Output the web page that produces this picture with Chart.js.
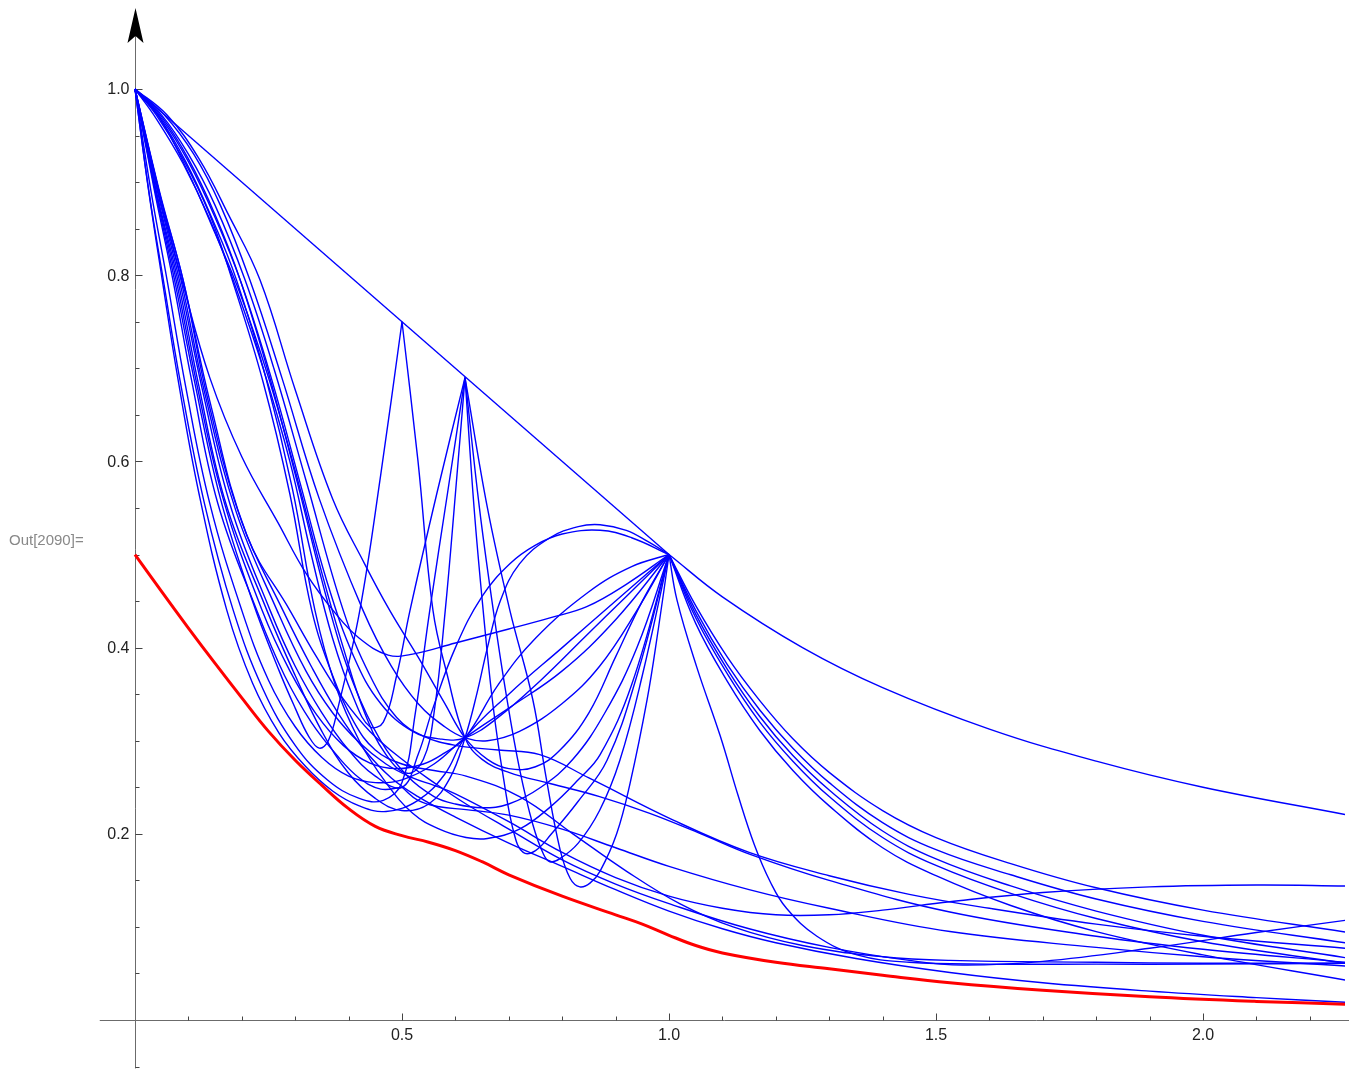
<!DOCTYPE html>
<html>
<head>
<meta charset="utf-8">
<title>Out[2090]</title>
<script src="https://cdn.jsdelivr.net/npm/chart.js@4.4.1/dist/chart.umd.min.js"></script>
<style>
  html, body { margin: 0; padding: 0; background: #fff; }
  #wrap { position: relative; width: 1349px; height: 1070px; }
</style>
</head>
<body>
<div id="wrap"><canvas id="curveChart" width="1349" height="1070"></canvas></div>
<script>
// Curves, as [x, y] pairs.
// Red lower envelope.
const redCurve = [[0,0.5],[0.05,0.46],[0.1,0.421],[0.15,0.383],[0.2,0.346],[0.25,0.31],[0.3,0.279],[0.35,0.252],[0.4,0.227],[0.45,0.208],[0.5,0.198],[0.55,0.191],[0.6,0.182],[0.65,0.17],[0.7,0.156],[0.8,0.133],[0.9,0.113],[0.95,0.103],[1.0,0.091],[1.05,0.08],[1.1,0.072],[1.2,0.062],[1.3,0.055],[1.4,0.048],[1.526,0.04],[1.7,0.032],[1.9,0.025],[2.1,0.02],[2.266,0.017]];

// Upper envelope: straight part and tail.
const upperLine = [[0,1],[1,0.5]];
const upperTail = [[1,0.5],[1.1,0.4545],[1.25,0.4],[1.4,0.357],[1.6,0.3125],[1.8,0.278],[2.0,0.25],[2.266,0.2207]];

// Steep curves leaving (0,1).
const curveL1 = [[0,1],[0.025,0.893],[0.051,0.795],[0.08,0.69],[0.12,0.565],[0.172,0.44],[0.22,0.362],[0.27,0.308],[0.32,0.272],[0.37,0.246],[0.42,0.23],[0.47,0.224],[0.53,0.236],[0.58,0.264],[0.618,0.303],[0.7,0.35],[0.8,0.4],[0.9,0.45],[1,0.5]];
const curveL4 = [[0,1],[0.03,0.89],[0.06,0.795],[0.095,0.68],[0.14,0.555],[0.2,0.44],[0.25,0.365],[0.3,0.315],[0.35,0.282],[0.4,0.262],[0.45,0.255],[0.5,0.258],[0.56,0.275],[0.618,0.303],[0.7,0.335],[0.8,0.375],[0.9,0.43],[1,0.5]];
const spikeHalfLeft = [[0,1],[0.037,0.893],[0.074,0.795],[0.11,0.69],[0.16,0.56],[0.22,0.45],[0.27,0.375],[0.3,0.335],[0.325,0.305],[0.345,0.292],[0.362,0.3],[0.38,0.335],[0.421,0.44],[0.46,0.585],[0.5,0.75]];
const spikeHalfRight = [[0.5,0.75],[0.53,0.6],[0.558,0.44],[0.585,0.37],[0.618,0.303],[0.65,0.28],[0.7,0.266],[0.777,0.254],[0.87,0.24],[0.964,0.222],[1.06,0.2],[1.152,0.178],[1.3,0.15],[1.526,0.116],[1.8,0.09],[2.0,0.076],[2.266,0.062]];
const curveW2 = [[0,1],[0.026,0.89],[0.053,0.795],[0.085,0.685],[0.13,0.555],[0.184,0.44],[0.24,0.355],[0.3,0.295],[0.36,0.258],[0.42,0.238],[0.465,0.236],[0.5,0.255],[0.525,0.33],[0.552,0.44],[0.585,0.565],[0.618,0.69]];
const curveL2 = [[0,1],[0.035,0.895],[0.071,0.795],[0.105,0.69],[0.155,0.555],[0.228,0.44],[0.28,0.37],[0.33,0.32],[0.38,0.283],[0.42,0.26],[0.46,0.248],[0.5,0.25]];
const curveL2b = [[0.5,0.25],[0.53,0.236],[0.57,0.229],[0.62,0.226],[0.7,0.22],[0.8,0.205],[0.9,0.185],[1.0,0.165],[1.15,0.14],[1.3,0.12],[1.526,0.095],[1.8,0.078],[2.0,0.068],[2.266,0.058]];
const curveL3 = [[0,1],[0.038,0.893],[0.077,0.795],[0.115,0.685],[0.165,0.56],[0.238,0.44],[0.29,0.375],[0.34,0.328],[0.39,0.295],[0.44,0.276],[0.49,0.27],[0.54,0.275],[0.58,0.287],[0.618,0.303],[0.68,0.36],[0.75,0.41],[0.85,0.46],[0.93,0.487],[1,0.5]];
const archHigh = [[0,1],[0.04,0.89],[0.08,0.795],[0.12,0.68],[0.17,0.555],[0.247,0.44],[0.3,0.37],[0.35,0.31],[0.4,0.265],[0.45,0.238],[0.5,0.225],[0.55,0.232],[0.59,0.26],[0.618,0.303],[0.64,0.35],[0.66,0.4],[0.684,0.45],[0.72,0.49],[0.777,0.518],[0.83,0.53],[0.871,0.532],[0.92,0.526],[0.96,0.514],[1,0.5]];
const archLow = [[0,1],[0.042,0.89],[0.083,0.795],[0.125,0.68],[0.18,0.55],[0.253,0.44],[0.3,0.38],[0.35,0.33],[0.4,0.29],[0.45,0.262],[0.5,0.25],[0.53,0.285],[0.558,0.335],[0.6,0.4],[0.65,0.455],[0.702,0.49],[0.75,0.51],[0.8,0.522],[0.871,0.526],[0.93,0.518],[1,0.5]];
const tailRise = [[0,1],[0.043,0.89],[0.086,0.795],[0.13,0.675],[0.19,0.545],[0.266,0.44],[0.32,0.375],[0.37,0.33],[0.42,0.298],[0.47,0.275],[0.52,0.26],[0.56,0.252],[0.6,0.243],[0.7,0.213],[0.8,0.18],[0.9,0.153],[1.0,0.133],[1.1,0.12],[1.2,0.113],[1.3,0.113],[1.4,0.118],[1.526,0.127],[1.7,0.137],[1.9,0.143],[2.1,0.145],[2.266,0.144]];
const tailBottom = [[0,1],[0.045,0.89],[0.09,0.795],[0.135,0.67],[0.2,0.535],[0.277,0.44],[0.33,0.38],[0.38,0.33],[0.43,0.29],[0.48,0.26],[0.53,0.24],[0.6,0.218],[0.7,0.19],[0.8,0.165],[0.9,0.14],[1.0,0.117],[1.1,0.098],[1.2,0.083],[1.35,0.066],[1.526,0.051],[1.7,0.04],[1.9,0.031],[2.1,0.024],[2.266,0.019]];
const tailDipRise = [[0,1],[0.045,0.892],[0.09,0.795],[0.14,0.665],[0.21,0.52],[0.29,0.44],[0.34,0.39],[0.39,0.345],[0.44,0.31],[0.5,0.28],[0.56,0.255],[0.62,0.232],[0.7,0.205],[0.8,0.172],[0.9,0.146],[1.0,0.125],[1.15,0.098],[1.3,0.078],[1.45,0.064],[1.55,0.059],[1.7,0.063],[1.9,0.077],[2.1,0.094],[2.266,0.107]];
const curveM1 = [[0,1],[0.045,0.89],[0.09,0.79],[0.14,0.69],[0.2,0.605],[0.268,0.534],[0.32,0.48],[0.375,0.437],[0.42,0.41],[0.474,0.392],[0.52,0.393],[0.6,0.405],[0.7,0.42],[0.777,0.432],[0.846,0.444],[0.92,0.468],[1,0.5]];

// Shallower curves leaving (0,1).
const curveW1 = [[0,1],[0.04,0.968],[0.09,0.92],[0.14,0.86],[0.19,0.785],[0.24,0.7],[0.29,0.6],[0.33,0.5],[0.37,0.41],[0.41,0.345],[0.44,0.315],[0.465,0.32],[0.49,0.37],[0.515,0.44],[0.565,0.565],[0.618,0.69]];
const curveW3 = [[0,1],[0.045,0.97],[0.1,0.91],[0.15,0.845],[0.197,0.78],[0.25,0.69],[0.3,0.59],[0.35,0.48],[0.39,0.4],[0.43,0.33],[0.47,0.285],[0.51,0.265],[0.54,0.28],[0.56,0.33],[0.581,0.44],[0.6,0.565],[0.618,0.69]];
const tailFlat = [[0,1],[0.04,0.972],[0.09,0.925],[0.14,0.865],[0.182,0.795],[0.24,0.685],[0.29,0.565],[0.331,0.44],[0.37,0.37],[0.41,0.32],[0.45,0.29],[0.5,0.275],[0.56,0.268],[0.62,0.262],[0.72,0.24],[0.82,0.2],[0.92,0.16],[1.02,0.125],[1.12,0.1],[1.25,0.08],[1.4,0.068],[1.526,0.064],[1.8,0.062],[2.0,0.061],[2.266,0.061]];
const curveM2 = [[0,1],[0.045,0.97],[0.095,0.922],[0.145,0.86],[0.19,0.795],[0.245,0.69],[0.295,0.57],[0.337,0.44],[0.375,0.36],[0.42,0.3],[0.47,0.255],[0.52,0.222],[0.57,0.205],[0.62,0.196],[0.66,0.195],[0.72,0.205],[0.78,0.23],[0.83,0.258],[0.871,0.285],[0.93,0.36],[1,0.5]];
const curveM3 = [[0,1],[0.05,0.97],[0.1,0.925],[0.15,0.865],[0.197,0.795],[0.25,0.695],[0.305,0.575],[0.365,0.44],[0.41,0.36],[0.46,0.3],[0.51,0.262],[0.56,0.24],[0.6,0.232],[0.65,0.228],[0.7,0.232],[0.76,0.25],[0.82,0.28],[0.88,0.33],[0.94,0.4],[1,0.5]];
const curveM4 = [[0,1],[0.05,0.972],[0.1,0.93],[0.15,0.875],[0.206,0.795],[0.26,0.7],[0.32,0.58],[0.39,0.44],[0.44,0.37],[0.49,0.325],[0.54,0.305],[0.6,0.295],[0.68,0.29],[0.758,0.285],[0.85,0.26],[1.007,0.215],[1.15,0.18],[1.3,0.155],[1.45,0.135],[1.6,0.12],[1.8,0.103],[2.0,0.09],[2.266,0.077]];
const curveM5 = [[0,1],[0.055,0.972],[0.11,0.93],[0.16,0.875],[0.215,0.795],[0.275,0.69],[0.345,0.56],[0.427,0.44],[0.48,0.38],[0.53,0.34],[0.58,0.315],[0.618,0.303],[0.66,0.3],[0.72,0.31],[0.8,0.34],[0.87,0.38],[0.94,0.44],[1,0.5]];
const curveM6 = [[0,1],[0.06,0.972],[0.12,0.925],[0.175,0.865],[0.234,0.795],[0.3,0.677],[0.37,0.56],[0.43,0.49],[0.477,0.44],[0.53,0.39],[0.58,0.34],[0.618,0.303],[0.66,0.28],[0.7,0.27],[0.75,0.272],[0.796,0.29],[0.85,0.33],[0.9,0.39],[0.95,0.45],[1,0.5]];
const curveM7 = [[0,1],[0.05,0.968],[0.1,0.922],[0.15,0.862],[0.2,0.79],[0.255,0.69],[0.31,0.575],[0.36,0.47],[0.41,0.39],[0.46,0.34],[0.52,0.31],[0.57,0.302],[0.618,0.303],[0.68,0.325],[0.76,0.365],[0.84,0.41],[0.92,0.455],[1,0.5]];

// Right legs of the spike at x = 0.618, dipping and rising to (1, 0.5).
const curveV1 = [[0.618,0.69],[0.66,0.55],[0.702,0.44],[0.745,0.344],[0.77,0.26],[0.796,0.183],[0.815,0.152],[0.833,0.143],[0.852,0.147],[0.871,0.16],[0.902,0.2],[0.927,0.254],[0.959,0.344],[0.98,0.42],[1,0.5]];
const curveV2 = [[0.618,0.69],[0.645,0.55],[0.671,0.44],[0.695,0.35],[0.72,0.27],[0.745,0.21],[0.765,0.178],[0.777,0.17],[0.795,0.173],[0.83,0.19],[0.87,0.225],[0.908,0.279],[0.95,0.37],[1,0.5]];
const curveV3 = [[0.618,0.69],[0.635,0.55],[0.652,0.44],[0.67,0.34],[0.69,0.26],[0.71,0.2],[0.727,0.18],[0.75,0.182],[0.78,0.2],[0.83,0.235],[0.884,0.279],[0.94,0.37],[1,0.5]];

// Fan leaving (1, 0.5).
const fan1 = [[1,0.5],[1.05,0.445],[1.109,0.39],[1.17,0.343],[1.232,0.302],[1.3,0.266],[1.4,0.225],[1.5,0.196],[1.64,0.168],[1.8,0.142],[2.0,0.118],[2.266,0.0945]];
const fan2 = [[1,0.5],[1.05,0.44],[1.109,0.382],[1.17,0.333],[1.232,0.292],[1.3,0.255],[1.4,0.212],[1.5,0.183],[1.64,0.156],[1.8,0.13],[2.0,0.106],[2.266,0.083]];
const fan3 = [[1,0.5],[1.05,0.436],[1.109,0.377],[1.17,0.326],[1.232,0.284],[1.3,0.247],[1.4,0.203],[1.5,0.173],[1.64,0.144],[1.8,0.117],[2.0,0.091],[2.266,0.067]];
const fan4 = [[1,0.5],[1.05,0.432],[1.109,0.372],[1.17,0.32],[1.232,0.278],[1.3,0.24],[1.4,0.196],[1.5,0.166],[1.64,0.136],[1.8,0.109],[2.0,0.084],[2.266,0.061]];
const fan5 = [[1,0.5],[1.05,0.426],[1.109,0.364],[1.17,0.311],[1.232,0.268],[1.3,0.23],[1.4,0.185],[1.5,0.155],[1.64,0.123],[1.8,0.095],[2.0,0.07],[2.266,0.043]];
const fanSteep = [[1,0.5],[1.015,0.451],[1.052,0.379],[1.096,0.305],[1.13,0.24],[1.16,0.188],[1.19,0.148],[1.22,0.12],[1.277,0.09],[1.352,0.07],[1.45,0.062],[1.6,0.06],[1.8,0.06],[2.0,0.06],[2.266,0.061]];

const blueCurves = [upperTail, curveL1, curveL4, spikeHalfLeft, spikeHalfRight, curveW2, curveL2, curveL2b, curveL3,
  archHigh, archLow, tailRise, tailBottom, tailDipRise, curveM1, curveW1, curveW3, tailFlat,
  curveM2, curveM3, curveM4, curveM5, curveM6, curveM7, curveV1, curveV2, curveV3,
  fan1, fan2, fan3, fan4, fan5, fanSteep];
const straightCurves = [upperLine];

// Axis ticks
const xMajorTicks = [0.5, 1.0, 1.5, 2.0];
const xTickLabels = ['0.5', '1.0', '1.5', '2.0'];
const yMajorTicks = [0.2, 0.4, 0.6, 0.8, 1.0];
const yTickLabels = ['0.2', '0.4', '0.6', '0.8', '1.0'];
const xMinorStep = 0.1, yMinorStep = 0.05;

function toPoints(arr) {
    return arr.map(p => ({ x: p[0], y: p[1] }));
}

// Mathematica style axes crossing at the origin.
const crossAxes = {
    id: 'crossAxes',
    beforeDatasetsDraw(chart) {
        const ctx = chart.ctx;
        const xs = chart.scales.x, ys = chart.scales.y;
        const x0 = Math.round(xs.getPixelForValue(0)) + 0.5;
        const y0 = Math.round(ys.getPixelForValue(0)) + 0.5;
        ctx.save();
        ctx.strokeStyle = '#6b6b6b';
        ctx.lineWidth = 1;
        // x axis
        ctx.beginPath();
        ctx.moveTo(xs.getPixelForValue(-0.066), y0);
        ctx.lineTo(chart.width, y0);
        ctx.stroke();
        // y axis
        ctx.beginPath();
        ctx.moveTo(x0, ys.getPixelForValue(-0.052));
        ctx.lineTo(x0, 30);
        ctx.stroke();

        // x ticks (pointing up)
        ctx.strokeStyle = '#444';
        for (let i = 1; i * xMinorStep <= xs.max; i++) {
            const v = i * xMinorStep;
            const px = Math.round(xs.getPixelForValue(v)) + 0.5;
            const major = xMajorTicks.some(t => Math.abs(t - v) < 1e-6);
            ctx.beginPath();
            ctx.moveTo(px, y0);
            ctx.lineTo(px, y0 - (major ? 7 : 4));
            ctx.stroke();
        }
        // y ticks (pointing right)
        for (let i = -1; i * yMinorStep < 0.99; i++) {
            const v = i * yMinorStep;
            if (i === 0) continue;
            const py = Math.round(ys.getPixelForValue(v)) + 0.5;
            const major = yMajorTicks.some(t => Math.abs(t - v) < 1e-6);
            ctx.beginPath();
            ctx.moveTo(x0, py);
            ctx.lineTo(x0 + (major ? 7 : 4), py);
            ctx.stroke();
        }
        ctx.beginPath();
        const p1 = Math.round(ys.getPixelForValue(1.0)) + 0.5;
        ctx.moveTo(x0, p1); ctx.lineTo(x0 + 7, p1); ctx.stroke();

        // tick labels
        ctx.fillStyle = '#222';
        ctx.font = '16px "Liberation Sans", Arial, sans-serif';
        ctx.textAlign = 'center';
        ctx.textBaseline = 'top';
        xMajorTicks.forEach((t, i) => {
            ctx.fillText(xTickLabels[i], xs.getPixelForValue(t), y0 + 7);
        });
        ctx.textAlign = 'right';
        ctx.textBaseline = 'middle';
        yMajorTicks.forEach((t, i) => {
            ctx.fillText(yTickLabels[i], x0 - 6, ys.getPixelForValue(t) + 1);
        });

        // arrow head on the y axis
        ctx.fillStyle = '#000';
        ctx.beginPath();
        ctx.moveTo(x0, 8);
        ctx.lineTo(x0 + 8, 43);
        ctx.lineTo(x0, 36);
        ctx.lineTo(x0 - 8, 43);
        ctx.closePath();
        ctx.fill();

        // notebook output label
        ctx.fillStyle = '#888';
        ctx.font = '15px "Liberation Sans", Arial, sans-serif';
        ctx.textAlign = 'left';
        ctx.textBaseline = 'middle';
        ctx.fillText('Out[2090]=', 9, 541);
        ctx.restore();
    }
};

const datasets = [];
datasets.push({
    data: toPoints(redCurve),
    borderColor: '#ff0000',
    borderWidth: 3,
    tension: 0.4,
    order: 0
});
straightCurves.forEach(c => datasets.push({
    data: toPoints(c), borderColor: '#0000ff', borderWidth: 1.4, tension: 0, order: 1
}));
blueCurves.forEach(c => datasets.push({
    data: toPoints(c), borderColor: '#0000ff', borderWidth: 1.4, tension: 0.4, order: 1
}));

const ctx = document.getElementById('curveChart').getContext('2d');
window.myChart = new Chart(ctx, {
    type: 'line',
    data: { datasets: datasets },
    options: {
        responsive: false,
        animation: false,
        layout: { padding: { left: 0, right: 4, top: 0, bottom: 0 } },
        elements: { point: { radius: 0 }, line: { fill: false } },
        plugins: { legend: { display: false }, tooltip: { enabled: false } },
        scales: {
            x: { type: 'linear', min: -0.25281, max: 2.26592, display: false },
            y: { type: 'linear', min: -0.0537, max: 1.0956, display: false }
        }
    },
    plugins: [crossAxes]
});
</script>
</body>
</html>
